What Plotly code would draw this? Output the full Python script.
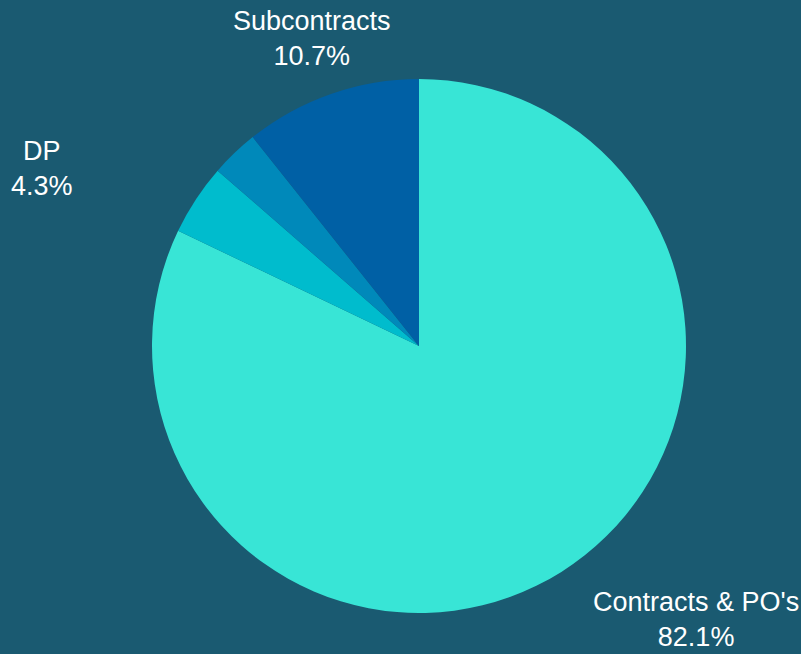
import plotly.graph_objects as go

labels = ["Contracts & PO's", "DP", "Other", "Subcontracts"]
values = [82.1, 4.3, 2.9, 10.7]
show_label = [True, True, False, True]
colors = ["#38e5d6", "#00bccd", "#0089ba", "#0060a5"]

# label placement (paper coordinates), kept separate from the data
label_pos = {
    "Contracts & PO's": (1.019, -0.013),
    "DP": (-0.206, 0.832),
    "Subcontracts": (0.2996, 1.075),
}

fig = go.Figure(go.Pie(
    labels=labels,
    values=values,
    sort=False,
    direction="clockwise",
    rotation=0,
    marker=dict(colors=colors, line=dict(width=0)),
    textinfo="none",
    showlegend=False,
    hoverinfo="label+percent",
))

total = sum(values)
for lab, val, show in zip(labels, values, show_label):
    if not show:
        continue
    x, y = label_pos[lab]
    fig.add_annotation(
        x=x, y=y, xref="paper", yref="paper",
        xanchor="center", yanchor="middle",
        text=f"{lab}<br>{val / total * 100:.1f}%",
        showarrow=False,
        font=dict(color="white", size=27, family="Liberation Sans, Arial, sans-serif"),
    )

fig.update_layout(
    width=801,
    height=654,
    paper_bgcolor="#1a5a71",
    plot_bgcolor="#1a5a71",
    margin=dict(l=152, r=115, t=79, b=41),
)

fig.write_html("out.html")
